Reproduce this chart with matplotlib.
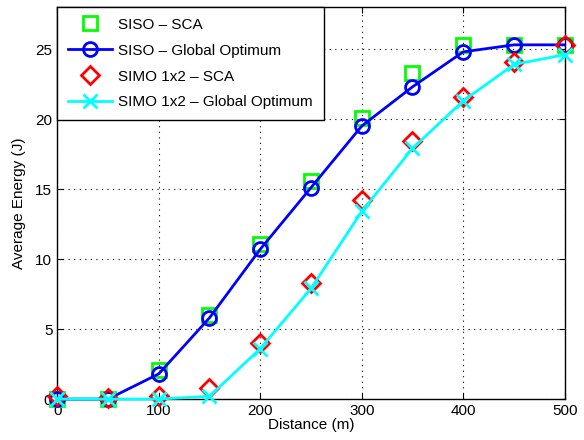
import numpy as np
import matplotlib
matplotlib.use('Agg')
import matplotlib.pyplot as plt

plt.rcParams['font.family'] = ['Liberation Sans', 'DejaVu Sans']

distance = [0, 50, 100, 150, 200, 250, 300, 350, 400, 450, 500]
siso_sca = [0.0, 0.0, 2.1, 6.0, 11.1, 15.6, 20.1, 23.3, 25.3, 25.3, 25.3]
siso_opt = [0.0, 0.0, 1.8, 5.8, 10.7, 15.1, 19.5, 22.3, 24.8, 25.3, 25.3]
simo_sca = [0.2, 0.1, 0.2, 0.8, 4.0, 8.3, 14.2, 18.4, 21.6, 24.1, 25.3]
simo_opt = [0.0, 0.0, 0.0, 0.2, 3.6, 7.9, 13.4, 17.9, 21.3, 23.9, 24.6]

fig = plt.figure(figsize=(5.84, 4.40), dpi=100)
ax = fig.add_axes([0.098, 0.093, 0.869, 0.891])

ax.plot(distance, siso_sca, 's', color=(0, 1, 0), mfc='none', mew=2, ms=10,
        linestyle='none', label='SISO \u2013 SCA', clip_on=False, zorder=3)
ax.plot(distance, siso_opt, 'o-', color=(0, 0, 1), mfc='none', mew=2, ms=10,
        lw=2, label='SISO \u2013 Global Optimum', clip_on=False, zorder=4)
ax.plot(distance, simo_sca, 'D', color=(1, 0, 0), mfc='none', mew=2, ms=9,
        linestyle='none', label='SIMO 1x2 \u2013 SCA', clip_on=False, zorder=5)
ax.plot(distance, simo_opt, 'x-', color=(0, 1, 1), mew=2, ms=10,
        lw=2, label='SIMO 1x2 \u2013 Global Optimum', clip_on=False, zorder=6)

ax.set_xlim(0, 500)
ax.set_ylim(0, 28)
ax.set_xticks([0, 100, 200, 300, 400, 500])
ax.set_yticks([0, 5, 10, 15, 20, 25])
ax.tick_params(direction='in', top=True, right=True, labelsize=11, length=4)
ax.grid(True, linestyle=(0, (1, 4)), color='black', linewidth=0.8)
for s in ax.spines.values():
    s.set_linewidth(1.0)

ax.set_xlabel('Distance (m)', fontsize=11, labelpad=0)
ax.set_ylabel('Average Energy (J)', fontsize=11, labelpad=7)

leg = ax.legend(loc='upper left', fontsize=11, fancybox=False, framealpha=1,
                edgecolor='black', handlelength=2.9, borderaxespad=0,
                borderpad=0.7, labelspacing=0.78, handletextpad=0.4)
leg.get_frame().set_linewidth(1.0)
leg.set_zorder(10)

fig.savefig('out.png', dpi=100)
